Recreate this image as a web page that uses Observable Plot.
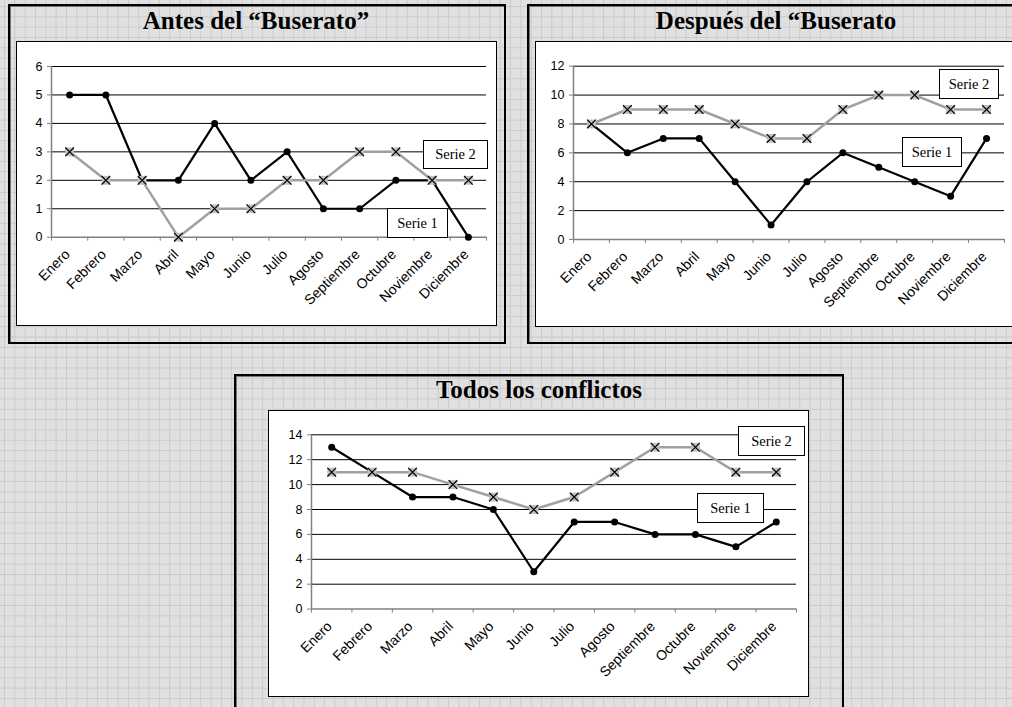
<!DOCTYPE html>
<html><head><meta charset="utf-8">
<script src="https://cdn.jsdelivr.net/npm/d3@7"></script>
<script src="https://cdn.jsdelivr.net/npm/@observablehq/plot@0.6"></script>
<style>
body{margin:0;background:#dfdfdf}
#page{position:relative;width:1012px;height:707px;overflow:hidden;background-color:#e0e0e0;
background-image:linear-gradient(to right,#cacaca 1px,transparent 1px),linear-gradient(to bottom,#cacaca 1px,transparent 1px);
background-size:10.33px 10.33px;background-position:4px 6px}
.frame{position:absolute;border:2px solid #000;box-sizing:border-box;box-shadow:inset 1px 1px 0 #777}
.title{position:absolute;font-family:"Liberation Serif","Times New Roman",serif;font-weight:bold;font-size:25px;line-height:24px;white-space:nowrap;transform:translateX(-50%);color:#000}
.box{position:absolute;background:#fff;border:1.5px solid #000;box-sizing:border-box}
.lab{position:absolute;background:#fff;border:1px solid #000;box-sizing:border-box;font-family:"Liberation Serif","Times New Roman",serif;font-size:14.5px;display:flex;align-items:center;justify-content:center;color:#000}
.chart{position:absolute}
</style></head>
<body>
<div id="page"></div>
<script>
const months = ["Enero","Febrero","Marzo","Abril","Mayo","Junio","Julio","Agosto","Septiembre","Octubre","Noviembre","Diciembre"];
const titles = ["Antes del \u201cBuserato\u201d", "Despu\u00e9s del \u201cBuserato", "Todos los conflictos"];
const seriesNames = ["Serie 1", "Serie 2"];
const antesSerie1 = [5,5,2,2,4,2,3,1,1,2,2,0];
const antesSerie2 = [3,2,2,0,1,1,2,2,3,3,2,2];
const despuesSerie1 = [8,6,7,7,4,1,4,6,5,4,3,7];
const despuesSerie2 = [8,9,9,9,8,7,7,9,10,10,9,9];
const todosSerie1 = [13,11,9,9,8,3,7,7,6,6,5,7];
const todosSerie2 = [11,11,11,10,9,8,9,11,13,13,11,11];
const yTicksAntes = [0,1,2,3,4,5,6];
const yTicksDespues = [0,2,4,6,8,10,12];
const yTicksTodos = [0,2,4,6,8,10,12,14];

const page = document.getElementById("page");
function el(cls, css, text) {
  const d = document.createElement("div");
  d.className = cls;
  Object.assign(d.style, css);
  if (text) d.textContent = text;
  page.appendChild(d);
  return d;
}

function chart(s1, s2, yTicks, geo) {
  const rows = months.map((m, i) => ({i: i + 0.5, m, s1: s1[i], s2: s2[i]}));
  const yMax = yTicks[yTicks.length - 1];
  const svg = Plot.plot({
    width: geo.W, height: geo.H,
    marginTop: geo.mt, marginRight: geo.mr, marginBottom: geo.mb, marginLeft: geo.ml,
    x: {type: "linear", domain: [0, months.length], axis: null},
    y: {domain: [0, yMax], axis: null},
    style: {fontFamily: "'Liberation Sans', Arial, sans-serif", fontSize: "12px", background: "transparent", color: "#000", overflow: "visible"},
    marks: [
      Plot.ruleY(yTicks.filter(v => v > 0), {stroke: "#000", strokeWidth: 1}),
      Plot.axisY({ticks: yTicks, tickFormat: d3.format("d"), label: null, tickSize: 4, tickPadding: 5, stroke: "#808080", fill: "#000", fontSize: 12.5}),
      Plot.axisX({ticks: d3.range(months.length + 1), tickFormat: () => "", label: null, tickSize: 4, stroke: "#808080"}),
      Plot.ruleY([0], {stroke: "#808080", strokeWidth: 1.5}),
      Plot.ruleX([0], {stroke: "#808080", strokeWidth: 1.5}),
      Plot.text(rows, {x: "i", y: () => 0, text: "m", rotate: -45, textAnchor: "end", lineAnchor: "top", dx: -6, dy: 11, fontSize: 14, fill: "#000"}),
      Plot.line(rows, {x: "i", y: "s1", stroke: "#000", strokeWidth: 2.2}),
      Plot.dot(rows, {x: "i", y: "s1", fill: "#000", r: 3.5}),
      Plot.line(rows, {x: "i", y: "s2", stroke: "#a0a0a0", strokeWidth: 2.5}),
      Plot.dot(rows, {x: "i", y: "s2", symbol: "square", fill: "#c0c0c0", r: 5}),
      Plot.dot(rows, {x: "i", y: "s2", symbol: "times", stroke: "#000", strokeWidth: 1.2, r: 4})
    ]
  });
  svg.classList.add("chart");
  svg.style.left = geo.L + "px";
  svg.style.top = geo.T + "px";
  page.appendChild(svg);
}

// Panel 1
el("frame", {left: "8px", top: "4px", width: "498px", height: "340px"});
el("title", {left: "256px", top: "9px"}, titles[0]);
el("box", {left: "16px", top: "41px", width: "481px", height: "285px"});
chart(antesSerie1, antesSerie2, yTicksAntes, {L: 17, T: 42, W: 479, H: 282, mt: 24, mr: 10, mb: 87.3, ml: 34});
el("lab", {left: "423px", top: "140px", width: "65px", height: "29px"}, seriesNames[1]);
el("lab", {left: "387px", top: "208px", width: "61px", height: "30px"}, seriesNames[0]);

// Panel 2
el("frame", {left: "527px", top: "4px", width: "500px", height: "340px"});
el("title", {left: "776px", top: "9px"}, titles[1]);
el("box", {left: "535px", top: "41px", width: "490px", height: "286px"});
chart(despuesSerie1, despuesSerie2, yTicksDespues, {L: 536, T: 42, W: 476, H: 283, mt: 23.7, mr: 8, mb: 86, ml: 37});
el("lab", {left: "939px", top: "69px", width: "60px", height: "30px"}, seriesNames[1]);
el("lab", {left: "902px", top: "137px", width: "60px", height: "30px"}, seriesNames[0]);

// Panel 3
el("frame", {left: "234px", top: "374px", width: "610px", height: "345px"});
el("title", {left: "539px", top: "378px"}, titles[2]);
el("box", {left: "268px", top: "410px", width: "541px", height: "287px"});
chart(todosSerie1, todosSerie2, yTicksTodos, {L: 269, T: 411, W: 538, H: 284, mt: 23.3, mr: 11, mb: 86.4, ml: 42});
el("lab", {left: "738px", top: "426px", width: "67px", height: "30px"}, seriesNames[1]);
el("lab", {left: "697px", top: "493px", width: "67px", height: "30px"}, seriesNames[0]);
</script>
</body></html>
